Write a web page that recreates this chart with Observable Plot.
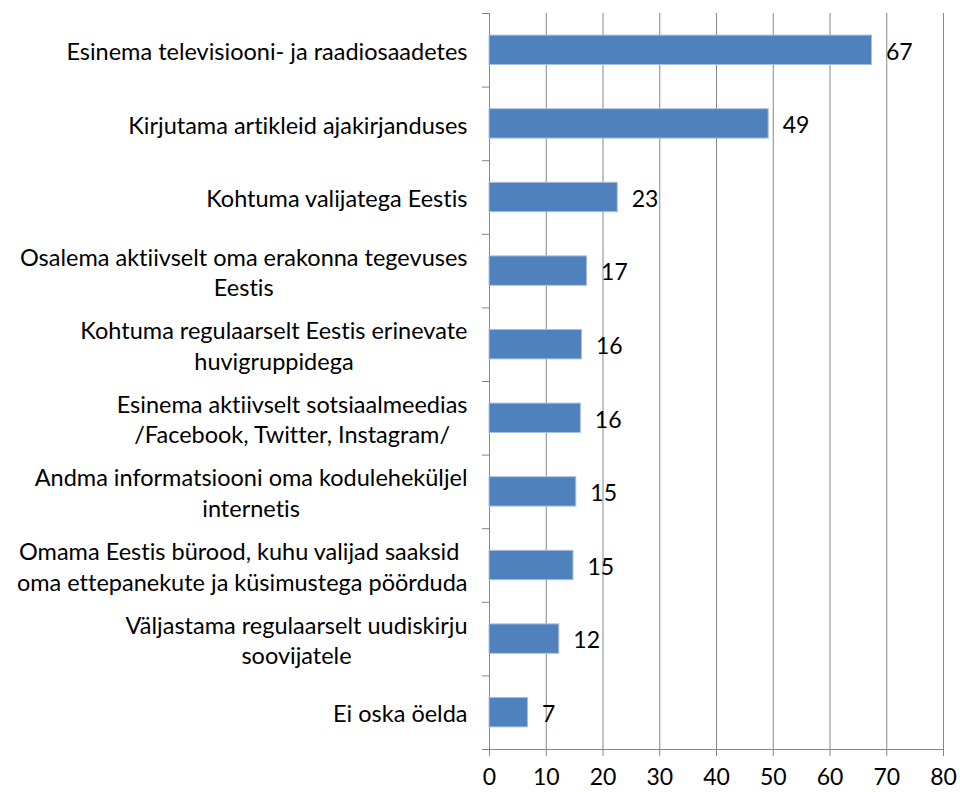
<!DOCTYPE html>
<html>
<head>
<meta charset="utf-8">
<script src="https://cdn.jsdelivr.net/npm/d3@7"></script>
<script src="https://cdn.jsdelivr.net/npm/@observablehq/plot@0.6"></script>
<style>
  html, body { margin: 0; padding: 0; background: #fff; }
  svg { display: block; font-variant-ligatures: none; font-feature-settings: "liga" 0, "clig" 0; }
</style>
</head>
<body>
<div id="chart"></div>
<script>
const categories = [
  "Esinema televisiooni- ja raadiosaadetes",
  "Kirjutama artikleid ajakirjanduses",
  "Kohtuma valijatega Eestis",
  "Osalema aktiivselt oma erakonna tegevuses\nEestis",
  "Kohtuma regulaarselt Eestis erinevate\nhuvigruppidega",
  "Esinema aktiivselt sotsiaalmeedias\n/Facebook, Twitter, Instagram/",
  "Andma informatsiooni oma koduleheküljel\ninternetis",
  "Omama Eestis bürood, kuhu valijad saaksid \noma ettepanekute ja küsimustega pöörduda",
  "Väljastama regulaarselt uudiskirju\nsoovijatele",
  "Ei oska öelda"
];
const values = [67.4, 49.2, 22.6, 17.2, 16.3, 16.1, 15.3, 14.8, 12.3, 6.8];
const xTicks = [0, 10, 20, 30, 40, 50, 60, 70, 80];

const rows = categories.map((label, i) => ({i, label, value: values[i]}));
const n = categories.length;
const boundaries = d3.range(n + 1).map(k => k - 0.5);

const grey = "#868686";

const chart = Plot.plot({
  width: 960,
  height: 792,
  marginLeft: 489,
  marginRight: 17,
  marginTop: 13,
  marginBottom: 43,
  style: {fontFamily: "Lato, 'Open Sans', sans-serif", background: "#fff", color: "#000"},
  x: {domain: [0, 80]},
  y: {domain: [n - 0.5, -0.5]},
  marks: [
    Plot.gridX(xTicks.filter(t => t > 0), {stroke: grey, strokeOpacity: 1, strokeWidth: 1}),
    Plot.axisX({ticks: xTicks, tickSize: 7, tickPadding: 12, fontSize: 23, stroke: grey, fill: "#000", label: null}),
    Plot.axisY({ticks: boundaries, tickSize: 7, tickFormat: () => "", stroke: grey, label: null}),
    Plot.frame({anchor: "left", stroke: grey}),
    Plot.frame({anchor: "bottom", stroke: grey}),
    Plot.rect(rows, {x1: 0, x2: "value", y1: d => d.i - 0.2, y2: d => d.i + 0.2, fill: "#4f81bd", stroke: "#a9c1e0", strokeWidth: 1}),
    Plot.text(rows, {x: "value", y: "i", text: d => String(Math.round(d.value)), dx: 14, dy: 2, textAnchor: "start", fontSize: 23, fill: "#000"}),
    Plot.text(rows, {x: 0, y: "i", text: "label", textAnchor: "end", dx: -22, fontSize: 23.5, lineHeight: 1.3, fill: "#000"})
  ]
});

document.getElementById("chart").appendChild(chart);

// center the lines of each multi-line category label inside its right-aligned block
chart.querySelectorAll("text").forEach(t => {
  const spans = t.querySelectorAll("tspan");
  if (spans.length < 2) return;
  const w = Math.max(...Array.from(spans, s => s.getComputedTextLength()));
  t.setAttribute("text-anchor", "middle");
  t.style.textAnchor = "middle";
  spans.forEach(s => s.setAttribute("x", -w / 2));
});
</script>
</body>
</html>
